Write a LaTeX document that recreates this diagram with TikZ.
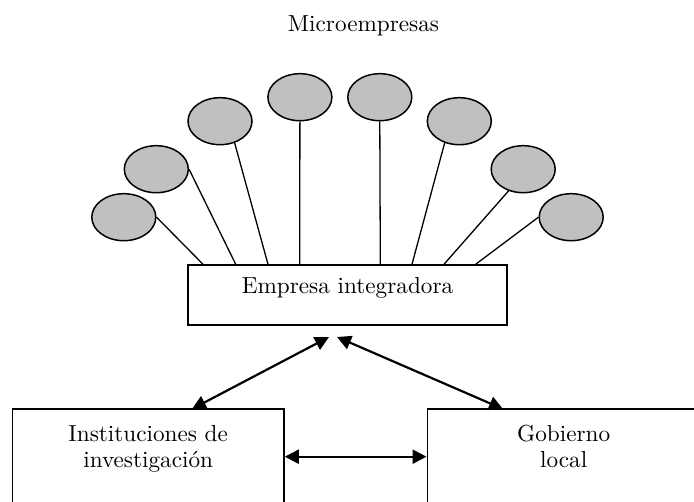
\documentclass[tikz,border=0pt]{standalone}
\usepackage{fontspec}
\setmainfont{lmroman10-regular.otf}
\usetikzlibrary{arrows.meta,shapes.geometric}
\definecolor{microgray}{RGB}{192,192,192}
\begin{document}
\begin{tikzpicture}[x=1pt,y=-1pt,
  micro/.style={ellipse, draw, line width=1.5pt, fill=microgray,
    minimum width=64pt, minimum height=47pt, inner sep=0pt},
  box/.style={rectangle, draw, line width=1.5pt, inner sep=0pt},
  spoke/.style={line width=1.3pt},
  link/.style={line width=2.2pt,
    {Triangle[length=14pt,width=14pt]}-{Triangle[length=14pt,width=14pt]}},
  lbl/.style={font=\fontsize{23.2}{26}\selectfont, align=center, inner sep=0pt}]
\useasboundingbox (0,0) rectangle (694,502);
\clip (0,0) rectangle (694,502);

% title
\node[lbl, anchor=base] (title) at (363.5,32) {Microempresas};

% central box
\node[box, lbl, minimum width=319pt, minimum height=60pt,
      text height=16pt, text depth=19pt] (emp) at (347.5,295) {Empresa integradora};

% microenterprises
\node[micro] (e1) at (123.8,217.2) {};
\node[micro] (e2) at (156.3,169.2) {};
\node[micro] (e3) at (220.0,121.2) {};
\node[micro] (e4) at (299.9,97.2) {};
\node[micro] (e5) at (379.8,97.2) {};
\node[micro] (e6) at (459.3,121.2) {};
\node[micro] (e7) at (523.2,169.2) {};
\node[micro] (e8) at (571.2,217.2) {};

% spoke ends on the box
\coordinate (s1) at ([xshift=-144.5pt]emp.north);
\coordinate (s2) at ([xshift=-111.8pt]emp.north);
\coordinate (s3) at ([xshift=-79.5pt]emp.north);
\coordinate (s4) at ([xshift=-47.8pt]emp.north);
\coordinate (s5) at ([xshift=32.8pt]emp.north);
\coordinate (s6) at ([xshift=64.5pt]emp.north);
\coordinate (s7) at ([xshift=96.5pt]emp.north);
\coordinate (s8) at ([xshift=128.2pt]emp.north);

\draw[spoke] (e1.east) -- (s1);
\draw[spoke] (e2.east) -- (s2);
\draw[spoke] (e3.304) -- (s3);
\draw[spoke] (e4.south) -- (s4);
\draw[spoke] (e5.south) -- (s5);
\draw[spoke] (e6.236) -- (s6);
\draw[spoke] (e7.236) -- (s7);
\draw[spoke] (e8.west) -- (s8);

% lower boxes
\node[box, minimum width=271.7pt, minimum height=95.4pt] (inst) at (148.2,456.7) {};
\node[lbl] (instText) at (148.2,448.7) {Instituciones de\\investigación};
\node[box, minimum width=272pt, minimum height=95.4pt] (gob) at (563.3,456.7) {};
\node[lbl] (gobText) at (563.7,446) {Gobierno\\local};

% arrows
\coordinate (tipL) at (329,337);
\coordinate (tipR) at (337,337);
\coordinate (instIn) at (192,409);
\coordinate (gobIn) at (503,409);
\draw[link] (instIn) -- (tipL);
\draw[link] (tipR) -- (gobIn);
\draw[link] (inst.east) -- (gob.west);
\end{tikzpicture}
\end{document}
